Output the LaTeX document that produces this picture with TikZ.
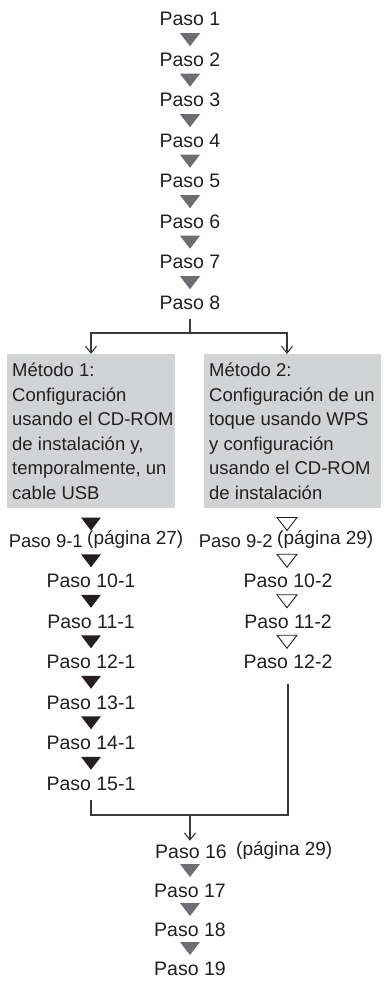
\documentclass[tikz,border=0pt]{standalone}
\usepackage{fontspec}
\setmainfont{Liberation Sans}
\usetikzlibrary{arrows.meta}
\definecolor{txt}{HTML}{231F20}
\definecolor{trigray}{HTML}{6D6E71}
\definecolor{boxgray}{HTML}{D1D3D4}
\definecolor{linec}{HTML}{3A3A3A}
\newcommand\mytri[3]{\path[#1] (#2-10,#3-6.5) -- (#2+10,#3-6.5) -- (#2,#3+6.5) -- cycle;}
\begin{document}
\begin{tikzpicture}[x=1pt,y=-1pt,
  every node/.style={text=txt},
  stepnode/.style={font=\fontsize{19.5}{22}\selectfont, inner sep=0pt, text height=14pt, text depth=0pt},
  smallstep/.style={stepnode, font=\fontsize{18.5}{22}\selectfont},
  pagnode/.style={font=\fontsize{19}{22}\selectfont, inner sep=0pt},
  methodbox/.style={fill=boxgray, anchor=north west, inner sep=0pt, minimum height=154pt},
  methodtext/.style={anchor=north west, inner sep=0pt, align=left,
     font=\fontsize{18.5}{24.5}\selectfont},
  ln/.style={draw=linec, line width=1.1pt},
  arr/.style={ln, -{Straight Barb[length=7pt,width=11pt,line width=1.1pt]}},
  gtri/.style={fill=trigray},
  btri/.style={fill=txt},
  otri/.style={draw=txt, line width=0.9pt, line join=miter, fill=white}
]
\useasboundingbox (0,0) rectangle (384,981);

% main column
\foreach \k in {1,...,8}{
  \node[stepnode] (p\k) at (190,{19+(\k-1)*40.5}) {Paso \k};
}
\foreach \k in {1,...,7}{
  \pgfmathsetmacro\ty{19+(\k-1)*40.5+20.75}
  \mytri{gtri}{190}{\ty}
}

% method boxes
\node[methodbox, minimum width=168pt] (m1) at (7,354) {};
\node[methodbox, minimum width=177pt] (m2) at (204,354) {};
\node[methodtext] (m1t) at (12,363) {Método 1:\\Configuración\\usando el CD-ROM\\de instalación y,\\temporalmente, un\\cable USB};
\node[methodtext] (m2t) at (209,363) {Método 2:\\Configuración de un\\toque usando WPS\\y configuración\\usando el CD-ROM\\de instalación};

% branch
\coordinate (br) at (190,333);
\draw[ln] ([yshift=-9pt]p8.south) -- (br);
\draw[arr] (br) -| (m1.north -| 91,0);
\draw[arr] (br) -| (m2.north -| 287,0);

% left column
\node[smallstep, anchor=east] (s91) at (83,540) {Paso 9-1};
\node[pagnode, anchor=west] (g27) at (87,539.5) {(página 27)};
\foreach \k [count=\i from 1] in {10,...,15}{
  \node[stepnode] (s\k1) at (91,{540+\i*40.5}) {Paso \k-1};
}
\mytri{btri}{91}{524}
\foreach \i in {0,...,5}{
  \pgfmathsetmacro\ty{540+\i*40.5+20.75}
  \mytri{btri}{91}{\ty}
}

% right column
\node[smallstep, anchor=east] (s92) at (273,540) {Paso 9-2};
\node[pagnode, anchor=west] (g29) at (277,539.5) {(página 29)};
\foreach \k [count=\i from 1] in {10,...,12}{
  \node[stepnode] (s\k2) at (288,{540+\i*40.5}) {Paso \k-2};
}
\mytri{otri}{287}{524}
\foreach \i in {0,...,2}{
  \pgfmathsetmacro\ty{540+\i*40.5+20.75}
  \mytri{otri}{287}{\ty}
}

% merge
\coordinate (mg) at (190,815);
\draw[ln] ([yshift=-10pt]s151.south) |- (mg);
\draw[ln] ([yshift=-15pt]s122.south) |- (mg);

% bottom column
\node[stepnode] (p16) at (191,851) {Paso 16};
\node[pagnode, anchor=west] (g29b) at (236,850.5) {(página 29)};
\draw[arr] (mg) -- ([yshift=3pt]p16.north -| mg);
\foreach \k [count=\i from 1] in {17,18,19}{
  \node[stepnode] (p\k) at (190,{851+\i*39}) {Paso \k};
}
\foreach \i in {0,1,2}{
  \pgfmathsetmacro\ty{851+\i*39+19.5}
  \mytri{gtri}{190}{\ty}
}
\end{tikzpicture}
\end{document}
